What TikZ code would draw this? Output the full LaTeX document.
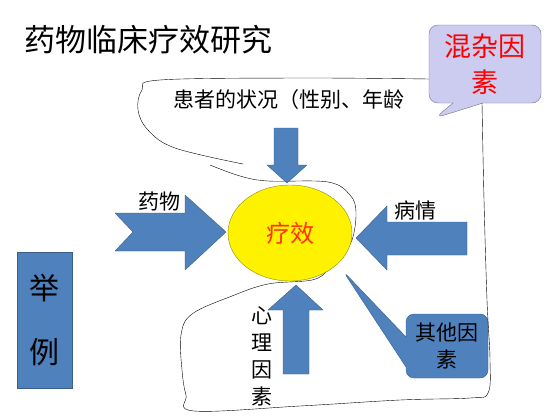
\documentclass[tikz,border=0pt]{standalone}
\usepackage{fontspec}
\setmainfont{Noto Sans CJK SC}
\usetikzlibrary{shapes.geometric,shapes.callouts}
\definecolor{boxblue}{HTML}{4F81BD}
\definecolor{boxline}{HTML}{3A5F8B}
\definecolor{lilac}{HTML}{CCCCF0}
\definecolor{lilacline}{HTML}{707090}
\definecolor{effectred}{HTML}{FF3300}
\definecolor{ringline}{HTML}{8C8C00}
\newcommand{\cnsize}[2]{\fontsize{#1}{#2}\selectfont}

\begin{document}
\begin{tikzpicture}[x=1pt,y=-1pt,
                blockarrow/.style={fill=boxblue, draw=boxline, line join=round},
                tag/.style={inner sep=0pt, align=center, font=\cnsize{21}{27}},
                bluebox/.style={fill=boxblue, draw=boxline, align=center, inner sep=0pt}
            ]
    \useasboundingbox[fill=white] (0,0) rectangle (554,415);
    \node[anchor=west, inner sep=0pt, font=\cnsize{31}{31}] (title) at (24,40) {药物临床疗效研究};

    % callouts
    \node[rectangle callout, fill=lilac, draw=lilacline, rounded corners=9pt,
          minimum width=112, minimum height=78, callout absolute pointer={(435,118)},
          callout pointer width=30pt, text=red, align=center, inner sep=0pt,
          font=\cnsize{27}{36}] (mix) at (485,64) {混杂因\\素};
    \node[rectangle callout, bluebox, rounded corners=8pt, minimum width=82, minimum height=64,
          callout absolute pointer={(343,271)}, callout pointer width=30pt,
          font=\cnsize{21}{27}] (other) at (447,346) {其他因\\素};

    % freehand outline
    \draw[line join=round] plot[smooth, tension=0.6] coordinates {([yshift=-15pt]mix.west) (300,78) (160,80)
        (142,90) (138,110) (148,130) (175,148) (243,164)};
    \draw[line join=round] plot[smooth, tension=0.6] coordinates {(210,165) (240,176) (268,181) (328,182)
        (350,195) (356,212) (352,240) (340,255) (328,270) (312,280) (268,284) (232,296) (192,314)
        (181,335) (182,370) (186,395) (194,411) (300,406) (400,400) (470,398) (488,393) (490,360)
        (487,300) (484,200) ([xshift=-3pt]mix.south)};

    \node[ellipse, fill=yellow, draw=ringline, minimum width=124, minimum height=96,
          text=effectred, font=\cnsize{24}{24}] (effect) at (290,233) {疗效};

    % arrows
    \draw[blockarrow] (274,128) -- (298,128) -- (298,165) -- (307,165) -- (287,183) -- (267,165) -- (274,165) -- cycle;
    \draw[blockarrow] (115,213) -- (185,213) -- (185,195) -- (226,232) -- (185,270) -- (185,251) -- (115,251) -- (133,232) -- cycle;
    \draw[blockarrow] (467,222) -- (387,222) -- (387,206) -- (356,238) -- (387,270) -- (387,255) -- (467,255) -- cycle;
    \draw[blockarrow] (283,374) -- (283,310) -- (268,310) -- (296,285) -- (323,310) -- (309,310) -- (309,374) -- cycle;

    % labels
    \node[tag] (patient) at (289,100) {患者的状况（性别、年龄};
    \node[tag] (drug) at (159,202) {药物};
    \node[tag] (illness) at (415,210) {病情};
    \node[tag] (mind) at (262,356) {心\\理\\因\\素};

    \node[bluebox, minimum width=55, minimum height=136, font=\cnsize{30}{64}] (example) at (44.5,320) {举\\例};
\end{tikzpicture}
\end{document}
